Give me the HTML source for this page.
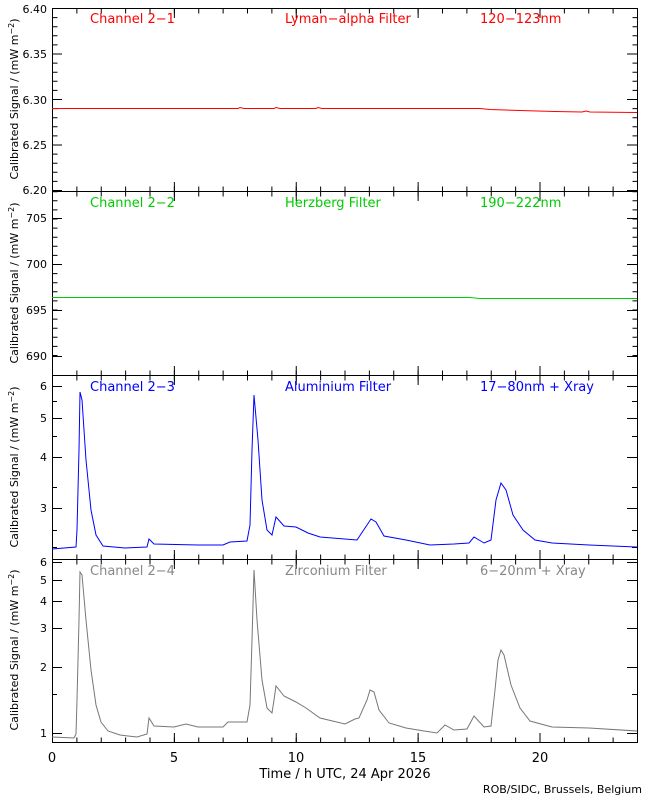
<!DOCTYPE html><html><head><style>body{margin:0;background:#fff}svg{display:block;font-family:"DejaVu Sans","Liberation Sans",sans-serif}</style></head><body>
<svg width="650" height="800" xmlns="http://www.w3.org/2000/svg">
<g fill="none" stroke="#000" stroke-width="1">
<rect x="52.5" y="8.5" width="585" height="183"/>
<rect x="52.5" y="191.5" width="585" height="184"/>
<rect x="52.5" y="375.5" width="585" height="184"/>
<rect x="52.5" y="559.5" width="585" height="183"/>
</g>
<!-- x ticks: minor -->
<g stroke="#000" stroke-width="5" stroke-dasharray="1 23.375">
<line x1="52" y1="11" x2="637" y2="11"/><line x1="52" y1="189" x2="637" y2="189"/>
<line x1="52" y1="194" x2="637" y2="194"/><line x1="52" y1="373" x2="637" y2="373"/>
<line x1="52" y1="378" x2="637" y2="378"/><line x1="52" y1="557" x2="637" y2="557"/>
<line x1="52" y1="562" x2="637" y2="562"/><line x1="52" y1="740" x2="637" y2="740"/>
</g>
<g stroke="#000" stroke-width="10" stroke-dasharray="1 120.875">
<line x1="52" y1="13" x2="637" y2="13"/><line x1="52" y1="187" x2="637" y2="187"/>
<line x1="52" y1="196" x2="637" y2="196"/><line x1="52" y1="371" x2="637" y2="371"/>
<line x1="52" y1="380" x2="637" y2="380"/><line x1="52" y1="555" x2="637" y2="555"/>
<line x1="52" y1="564" x2="637" y2="564"/><line x1="52" y1="738" x2="637" y2="738"/>
</g>
<!-- y ticks panel1 -->
<g stroke="#000" stroke-width="5" stroke-dasharray="1 8.1">
<line x1="55" y1="8" x2="55" y2="191"/><line x1="635" y1="8" x2="635" y2="191"/>
<line x1="55" y1="356" x2="55" y2="191"/><line x1="635" y1="356" x2="635" y2="191"/>
</g>
<g stroke="#000" stroke-width="10" stroke-dasharray="1 44.5">
<line x1="57" y1="8" x2="57" y2="191"/><line x1="632" y1="8" x2="632" y2="191"/>
</g>
<g stroke="#000" stroke-width="1">
<path d="M52 218.5h10M52 264.5h10M52 310.5h10M52 356.5h10M637 218.5h-10M637 264.5h-10M637 310.5h-10M637 356.5h-10"/>
<path d="M52 386.5h10M52 418.5h10M52 457.5h10M52 508.5h10M637 386.5h-10M637 418.5h-10M637 457.5h-10M637 508.5h-10"/>
<path d="M52 562.5h10M52 580.5h10M52 601.5h10M52 628.5h10M52 667.5h10M52 733.5h10M637 562.5h-10M637 580.5h-10M637 601.5h-10M637 628.5h-10M637 667.5h-10M637 733.5h-10"/>
<path d="M52 530.5h5M52 547.5h5M52 487.5h5M52 436.5h5M52 401.5h5M637 530.5h-5M637 547.5h-5M637 487.5h-5M637 436.5h-5M637 401.5h-5"/>
<path d="M52 694.5h5M637 694.5h-5"/>
</g>
<!-- y labels -->
<g font-size="11" text-anchor="end" fill="#000">
<text x="47" y="13">6.40</text><text x="47" y="58">6.35</text><text x="47" y="104">6.30</text><text x="47" y="149">6.25</text><text x="47" y="194">6.20</text>
<text x="47" y="222">705</text><text x="47" y="268">700</text><text x="47" y="314">695</text><text x="47" y="360">690</text>
<text x="47" y="390">6</text><text x="47" y="422">5</text><text x="47" y="461">4</text><text x="47" y="512">3</text>
<text x="47" y="566">6</text><text x="47" y="584">5</text><text x="47" y="605">4</text><text x="47" y="632">3</text><text x="47" y="671">2</text><text x="47" y="737">1</text>
</g>
<g font-size="11" text-anchor="middle" fill="#000">
<text transform="translate(18,99) rotate(-90)">Calibrated Signal / (mW m<tspan dy="-4" font-size="8">−2</tspan><tspan dy="4">)</tspan></text>
<text transform="translate(18,283) rotate(-90)">Calibrated Signal / (mW m<tspan dy="-4" font-size="8">−2</tspan><tspan dy="4">)</tspan></text>
<text transform="translate(18,467) rotate(-90)">Calibrated Signal / (mW m<tspan dy="-4" font-size="8">−2</tspan><tspan dy="4">)</tspan></text>
<text transform="translate(18,650) rotate(-90)">Calibrated Signal / (mW m<tspan dy="-4" font-size="8">−2</tspan><tspan dy="4">)</tspan></text>
</g>
<!-- data -->
<polyline fill="none" stroke="#f00" stroke-width="1" points="52,108.5 238,108.5 240,107.5 244,108.5 274,108.5 276,107.5 280,108.5 316,108.5 318,107.5 322,108.5 480,108.5 490,109.5 520,110.5 555,111.5 582,112 586,111 590,112 637,112.5"/>
<polyline fill="none" stroke="#0c0" stroke-width="1" points="52,297.5 470,297.5 480,298.5 637,298.5"/>
<polyline fill="none" stroke="#00f" stroke-width="1" points="52,549 76,547 77,530 79,450 80,392 82,400 86,460 91,510 96,535 103,546 125,548 147,547 149,539 154,544 198,545 223,545 230,542 247,541 250,525 252,450 254,395 258,440 262,500 267,530 272,535 276,517 284,526 296,527 308,533 320,537 357,540 367,525 371,519 376,522 384,536 406,540 430,545 454,544 469,543 474,537 484,543 491,540 496,500 501,483 506,490 513,515 523,530 535,540 552,543 589,545 637,547"/>
<polyline fill="none" stroke="#777" stroke-width="1" points="52,737 74,738 76,734 77,700 79,620 80,572 82,575 86,620 91,670 96,705 101,722 108,731 120,735 137,737 147,734 149,718 154,726 174,727 186,724 198,727 223,727 228,722 247,722 250,705 252,640 254,570 257,620 262,680 267,708 272,713 274,700 276,686 284,696 296,702 306,708 320,718 345,724 355,719 359,718 367,700 370,690 374,692 379,710 389,723 406,728 418,730 437,733 445,725 454,730 467,729 474,716 484,727 491,726 495,690 498,660 501,650 504,655 511,685 520,708 530,721 552,727 589,728 637,731"/>
<!-- channel labels -->
<g font-size="13">
<text x="90" y="23" fill="#f00">Channel 2−1</text><text x="285" y="23" fill="#f00">Lyman−alpha Filter</text><text x="480" y="23" fill="#f00">120−123nm</text>
<text x="90" y="207" fill="#0c0">Channel 2−2</text><text x="285" y="207" fill="#0c0">Herzberg Filter</text><text x="480" y="207" fill="#0c0">190−222nm</text>
<text x="90" y="391" fill="#00f">Channel 2−3</text><text x="285" y="391" fill="#00f">Aluminium Filter</text><text x="480" y="391" fill="#00f">17−80nm + Xray</text>
<text x="90" y="575" fill="#888">Channel 2−4</text><text x="285" y="575" fill="#888">Zirconium Filter</text><text x="480" y="575" fill="#888">6−20nm + Xray</text>
</g>
<g font-size="13" text-anchor="middle">
<text x="52" y="762">0</text><text x="174" y="762">5</text><text x="296" y="762">10</text><text x="418" y="762">15</text><text x="540" y="762">20</text>
<text x="345" y="778">Time / h UTC, 24 Apr 2026</text>
</g>
<text x="642" y="793" font-size="11" text-anchor="end">ROB/SIDC, Brussels, Belgium</text>
</svg>
</body></html>
